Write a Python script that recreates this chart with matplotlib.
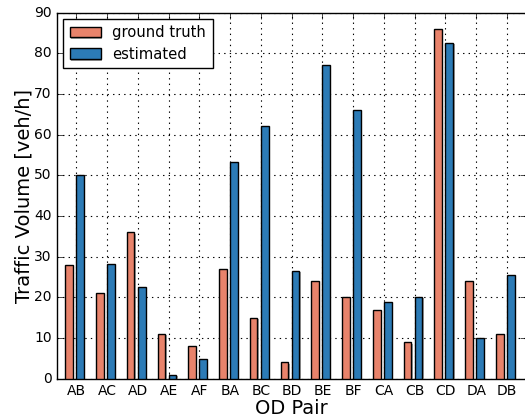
import matplotlib
matplotlib.use("Agg")
import matplotlib.pyplot as plt
import matplotlib.patheffects as pe
import numpy as np

pairs = ["AB", "AC", "AD", "AE", "AF", "BA", "BC", "BD", "BE", "BF",
         "CA", "CB", "CD", "DA", "DB"]
ground_truth = [28, 21, 36, 11, 8, 27, 15, 4, 24, 20, 17, 9, 86, 24, 11]
estimated = [50, 28.2, 22.6, 1, 4.8, 53.3, 62.2, 26.5, 77.2, 66.1,
             18.8, 20.1, 82.6, 10, 25.4]

plt.style.use("classic")
plt.rcParams["font.family"] = "DejaVu Sans"

fig = plt.figure(figsize=(5.25, 4.17), dpi=100, facecolor="white")
ax = fig.add_axes([0.109, 0.0918, 0.893, 0.8777])

ind = np.arange(len(pairs))
w = 0.25
shadow = [pe.SimplePatchShadow(offset=(1, -1), shadow_rgbFace="0.55", alpha=0.8), pe.Normal()]

b1 = ax.bar(ind - 0.36, ground_truth, w, align="edge", color="#E8836B",
            edgecolor="black", linewidth=1.0, label="ground truth", zorder=3)
b2 = ax.bar(ind, estimated, w, align="edge", color="#2C7BB6",
            edgecolor="black", linewidth=1.0, label="estimated", zorder=3)
for p in list(b1) + list(b2):
    p.set_path_effects(shadow)

ax.set_xlim(-0.62, 14.62)
ax.set_ylim(0, 90)
ax.set_xticks(ind)
ax.set_xticklabels(pairs, fontsize=10)
ax.set_yticks(range(0, 91, 10))
ax.tick_params(axis="y", labelsize=10)
ax.grid(True, color="black", linestyle=":", linewidth=0.8, zorder=0)
ax.set_axisbelow(True)

ax.set_xlabel("OD Pair", fontsize=14, labelpad=0.5)
ax.set_ylabel("Traffic Volume [veh/h]", fontsize=14, labelpad=0.5)

leg = ax.legend(loc="upper left", fontsize=10.6, fancybox=False,
                borderaxespad=0.4, borderpad=0.45, handlelength=2.1,
                handleheight=0.75, handletextpad=0.8, labelspacing=0.45)
leg.get_frame().set_edgecolor("black")

fig.savefig("out.png", dpi=100, facecolor="white")
